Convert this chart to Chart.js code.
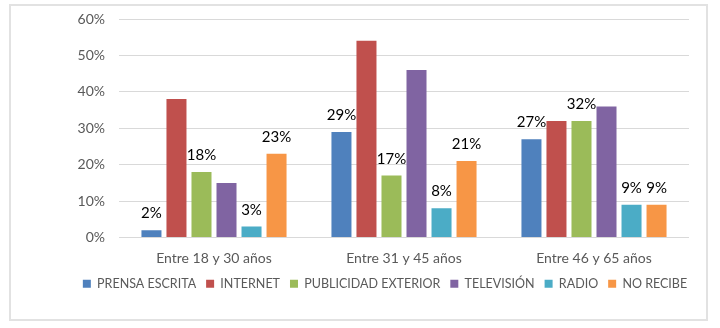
<!DOCTYPE html>
<html>
<head>
<meta charset="utf-8">
<script src="https://cdn.jsdelivr.net/npm/chart.js@4.4.1/dist/chart.umd.min.js"></script>
<style>
  body { margin: 0; background: #fff; }
  #box {
    position: absolute; left: 9px; top: 4px;
    width: 695px; height: 313px;
    border: 2px solid #e2e2e2;
  }
</style>
</head>
<body>
<div id="box"><canvas id="chart"></canvas></div>
<script>
const categories = ['Entre 18 y 30 años', 'Entre 31 y 45 años', 'Entre 46 y 65 años'];
const seriesNames = ['PRENSA ESCRITA', 'INTERNET', 'PUBLICIDAD EXTERIOR', 'TELEVISIÓN', 'RADIO', 'NO RECIBE'];
const prensa = [2, 29, 27];
const internet = [38, 54, 32];
const publicidad = [18, 17, 32];
const television = [15, 46, 36];
const radio = [3, 8, 9];
const noRecibe = [23, 21, 9];
const yTicks = [0, 10, 20, 30, 40, 50, 60];
// only these series carry a value label above the bar
const labeledSeries = ['PRENSA ESCRITA', 'PUBLICIDAD EXTERIOR', 'RADIO', 'NO RECIBE'];

const colors = ['#4F81BD', '#C0504D', '#9BBB59', '#8064A2', '#4BACC6', '#F79646'];
const values = [prensa, internet, publicidad, television, radio, noRecibe];

const FONT = 'Lato, "Open Sans", sans-serif';

const barLabels = {
  id: 'barLabels',
  afterDatasetsDraw(chart) {
    const ctx = chart.ctx;
    ctx.save();
    ctx.font = '15px ' + FONT;
    ctx.fillStyle = '#000';
    ctx.textAlign = 'center';
    ctx.textBaseline = 'alphabetic';
    chart.data.datasets.forEach((ds, i) => {
      if (!labeledSeries.includes(ds.label)) return;
      chart.getDatasetMeta(i).data.forEach((bar, j) => {
        ctx.fillText(ds.data[j] + '%', bar.x, bar.y - 12);
      });
    });
    ctx.restore();
  }
};

// nudge the legend a bit to the right, like the original
const legendShift = {
  id: 'legendShift',
  afterLayout(chart) {
    chart.legend.left += 10;
    chart.legend.right += 10;
  }
};

new Chart(document.getElementById('chart'), {
  type: 'bar',
  data: {
    labels: categories,
    datasets: seriesNames.map((name, i) => ({
      label: name,
      data: values[i],
      backgroundColor: colors[i],
      categoryPercentage: 0.79,
      barPercentage: 0.8
    }))
  },
  options: {
    responsive: true,
    maintainAspectRatio: false,
    animation: false,
    layout: { padding: { left: 50, right: 17, top: 13, bottom: 19 } },
    plugins: {
      legend: {
        position: 'bottom',
        labels: {
          boxWidth: 8, boxHeight: 8, padding: 10,
          color: '#595959',
          font: { family: FONT, size: 12.5 }
        }
      },
      tooltip: { enabled: false }
    },
    scales: {
      x: {
        afterFit(scale) { scale.height = 30; },
        grid: { display: false, drawTicks: false },
        border: { display: false },
        ticks: { color: '#595959', padding: 13, font: { family: FONT, size: 14 } }
      },
      y: {
        min: 0, max: 60,
        afterBuildTicks(scale) { scale.ticks = yTicks.map(v => ({ value: v })); },
        afterFit(scale) { scale.width = 58; scale.paddingTop = 0; scale.paddingBottom = 0; },
        grid: { color: '#d9d9d9', drawTicks: false },
        border: { display: false },
        ticks: {
          color: '#595959', padding: 14,
          font: { family: FONT, size: 14 },
          callback: v => v + '%'
        }
      }
    }
  },
  plugins: [barLabels, legendShift]
});
</script>
</body>
</html>
